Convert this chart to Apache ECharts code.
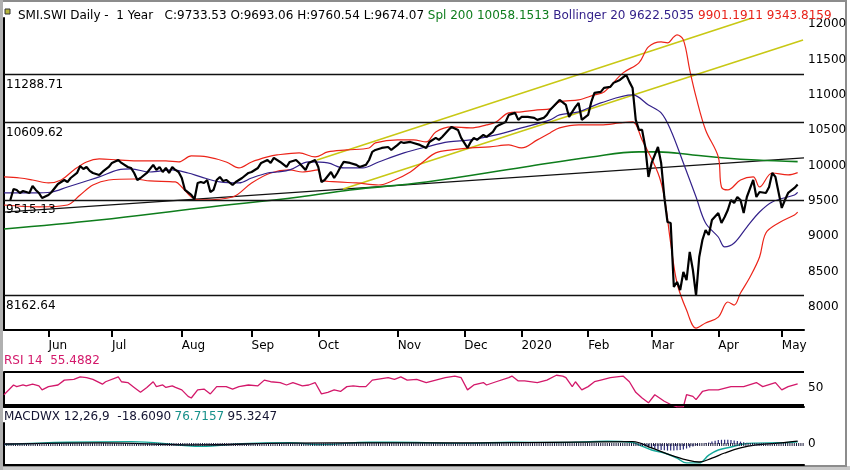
<!DOCTYPE html>
<html>
<head>
<meta charset="utf-8">
<script src="https://cdn.jsdelivr.net/npm/echarts@6.0.0/dist/echarts.min.js"></script>
<style>
  html, body { margin: 0; padding: 0; background: #fff; }
  #chart { width: 850px; height: 470px; }
</style>
</head>
<body>
<div id="chart"></div>
<script>
// x = trading day number since mid May 2019
var monthDays  = [14, 34, 56, 78, 99, 124, 145, 163, 184, 204, 225, 245];
var monthNames = ['Jun', 'Jul', 'Aug', 'Sep', 'Oct', 'Nov', 'Dec', '2020', 'Feb', 'Mar', 'Apr', 'May'];

// daily close
var price = [
  [2,9515],[3,9671],[4,9657],[5,9614],[6,9642],[7,9628],[8,9614],[9,9713],[10,9657],[11,9614],[12,9543],
  [14,9586],[15,9628],[16,9685],[17,9741],[19,9798],[20,9770],[21,9826],[23,9897],[24,9996],[25,9954],
  [26,9982],[27,9926],[28,9897],[30,9869],[31,9911],[33,9982],[34,10039],[36,10081],[37,10039],[39,9982],
  [40,9968],[41,9897],[42,9798],[43,9826],[45,9897],[47,10011],[48,9940],[49,9982],[50,9911],[51,9968],
  [52,9897],[53,9982],[54,9940],[55,9911],[56,9826],[57,9657],[59,9586],[60,9525],[61,9756],[62,9770],
  [63,9756],[64,9798],[65,9628],[66,9657],[67,9798],[68,9841],[69,9784],[70,9798],[72,9727],[73,9770],
  [75,9826],[77,9897],[78,9911],[80,9968],[81,10039],[83,10081],[84,10039],[85,10110],[87,10053],[89,9982],
  [90,10053],[92,10081],[93,10039],[95,9940],[96,10039],[98,10081],[99,9982],[100,9770],[101,9798],[103,9911],
  [104,9826],[105,9897],[106,9982],[107,10053],[109,10039],[111,10011],[112,9982],[114,10011],[115,10081],
  [116,10195],[117,10223],[119,10251],[121,10265],[122,10223],[124,10294],[125,10336],[126,10322],[128,10336],
  [129,10322],[131,10294],[133,10251],[134,10336],[136,10393],[137,10365],[138,10407],[140,10506],[141,10549],
  [143,10506],[144,10393],[146,10251],[147,10336],[148,10393],[149,10365],[151,10435],[152,10407],[154,10478],
  [155,10549],[156,10577],[158,10619],[159,10719],[161,10747],[162,10648],[163,10690],[165,10690],[167,10676],
  [168,10648],[170,10676],[171,10719],[172,10789],[175,10931],[177,10860],[178,10690],[180,10832],[181,10888],
  [182,10648],[184,10719],[185,10903],[186,11030],[188,11044],[189,11101],[191,11115],[192,11172],[194,11214],
  [196,11285],[197,11186],[198,11101],[199,10648],[200,10506],[201,10506],[202,10265],[203,9841],[204,10039],
  [206,10265],[207,10039],[208,9557],[209,9203],[210,9189],[211,8283],[212,8354],[213,8241],[214,8496],
  [215,8382],[216,8779],[217,8524],[218,8163],[219,8708],[220,8949],[221,9090],[222,9019],[223,9232],
  [225,9331],[226,9189],[227,9274],[228,9373],[229,9515],[230,9472],[231,9557],[232,9515],[233,9331],
  [234,9557],[236,9798],[237,9557],[238,9628],[240,9614],[241,9699],[242,9897],[243,9841],[245,9402],
  [246,9515],[247,9614],[249,9685],[250,9733.53]
];

// Bollinger 20
var bbUpper = [
  [0,9841],[5,9826],[9,9798],[14,9756],[18,9798],[22,9940],[26,10053],[30,10096],[36,10081],[43,10067],
  [51,10067],[55,10053],[59,10138],[64,10124],[70,10053],[74,9968],[78,10053],[83,10124],[86,10152],
  [93,10181],[98,10124],[102,10195],[108,10223],[115,10251],[117,10322],[124,10365],[129,10365],[133,10336],
  [136,10478],[141,10549],[147,10535],[152,10577],[155,10619],[159,10747],[163,10761],[168,10789],[172,10803],
  [175,10903],[181,10931],[186,11002],[189,11044],[195,11313],[200,11455],[203,11681],[207,11752],[209,11738],
  [211,11823],[212,11851],[214,11781],[216,11356],[218,10973],[221,10506],[225,10124],[226,9699],[228,9657],
  [232,9798],[236,9841],[238,9699],[242,9897],[247,9869],[250,9901.19]
];
var bbMid = [
  [0,9614],[9,9614],[15,9628],[20,9699],[25,9770],[30,9841],[36,9940],[40,9954],[46,9911],[53,9940],
  [58,9897],[62,9841],[68,9770],[74,9756],[78,9826],[83,9897],[86,9911],[90,9940],[96,10053],[102,10039],
  [107,9968],[113,9968],[118,10053],[126,10181],[133,10265],[140,10336],[147,10365],[155,10435],[163,10535],
  [172,10648],[175,10719],[181,10761],[188,10888],[198,11002],[203,10860],[207,10747],[210,10506],[214,10039],
  [218,9557],[221,9189],[225,8991],[227,8850],[230,8906],[234,9132],[238,9345],[242,9487],[249,9586],[250,9622.5]
];
var bbLower = [
  [0,9444],[11,9416],[20,9444],[24,9586],[28,9727],[33,9798],[41,9812],[46,9784],[54,9770],[56,9699],
  [59,9557],[62,9515],[72,9557],[78,9756],[84,9897],[90,9940],[94,9911],[99,9940],[100,9798],[105,9770],
  [111,9756],[118,9727],[123,9798],[128,9911],[132,10053],[136,10181],[141,10223],[147,10251],[153,10265],
  [159,10294],[163,10251],[168,10365],[172,10464],[175,10535],[181,10577],[188,10577],[194,10605],[198,10619],
  [201,10365],[206,9897],[208,9557],[210,8906],[212,8340],[215,7957],[218,7702],[221,7773],[225,7858],
  [228,8071],[230,8028],[232,8198],[235,8425],[238,8708],[240,9048],[244,9189],[249,9303],[250,9343.8]
];
// Spl 200
var spl200 = [
  [0,9104],[30,9232],[62,9402],[93,9557],[109,9657],[133,9770],[164,9982],[185,10124],[200,10195],
  [206,10195],[217,10152],[227,10110],[237,10081],[250,10058]
];
// drawn trend lines and levels
var channelHigh = [[98.6,10080],[235.6,12089]];
var channelLow  = [[106.8,9670],[251.7,11779]];
var longTrend   = [[0,9344],[252,10110]];
var levels = [11288.71, 10609.62, 9515.13, 8162.64];

// RSI 14
var rsi = [
  [0,42],[3,54],[4,52],[6,54],[7,53],[9,55],[11,53],[12,48],[14,52],[17,54],[19,60],[22,61],[24,64],
  [26,63],[28,61],[31,55],[32,58],[36,64],[37,58],[39,57],[41,51],[43,45],[45,51],[47,58],[48,52],[50,54],
  [51,51],[53,53],[54,51],[56,48],[58,40],[59,38],[61,48],[63,49],[65,43],[67,52],[70,52],[72,49],[74,52],
  [77,54],[80,53],[82,60],[84,58],[87,57],[89,54],[91,57],[94,53],[96,54],[98,57],[100,43],[102,45],
  [104,48],[106,46],[108,52],[110,53],[112,52],[114,52],[116,60],[121,63],[123,61],[125,64],[127,60],
  [130,61],[133,57],[136,60],[139,63],[142,65],[144,63],[146,48],[148,54],[151,57],[152,54],[155,58],
  [159,63],[160,65],[162,59],[164,59],[168,57],[171,60],[174,66],[176,65],[177,63],[179,52],[180,58],
  [182,48],[184,52],[186,58],[188,60],[191,63],[195,65],[197,58],[199,45],[201,38],[203,32],[205,42],
  [208,34],[210,30],[212,27],[214,27],[215,42],[217,40],[218,36],[220,46],[222,48],[225,48],[229,52],
  [233,52],[237,57],[239,52],[243,57],[245,48],[247,52],[250,55.49]
];

// MACD 12,26,9
var macd = [
  [0,-20],[20,60],[40,80],[56,-40],[62,-80],[75,10],[90,40],[100,-20],[115,60],[130,50],[145,20],[160,60],
  [175,50],[190,90],[198,50],[200,-30],[204,-200],[208,-300],[212,-470],[215,-630],[219,-630],[222,-370],
  [225,-200],[229,-100],[233,0],[237,30],[244,40],[247,50],[250,77]
];
var signal = [
  [0,0],[30,40],[60,-30],[90,30],[120,40],[150,40],[180,60],[198,80],[204,-130],[210,-370],[215,-530],
  [219,-600],[223,-470],[227,-300],[232,-130],[237,-30],[243,20],[247,60],[250,95]
];
var hist = [
  [200,-20],[201,-50],[202,-80],[203,-110],[204,-140],[205,-160],[206,-180],[207,-200],[208,-210],[209,-220],
  [210,-220],[211,-220],[212,-210],[213,-200],[214,-180],[215,-150],[216,-120],[217,-80],[218,-40],[219,-10],
  [221,20],[222,50],[223,80],[224,110],[225,130],[226,140],[227,140],[228,140],[229,130],[230,120],
  [231,100],[232,80],[233,60],[234,40],[235,30],[236,20],[237,10]
];

var FONT = 'DejaVu Sans';
var chart = echarts.init(document.getElementById('chart'));

function xAxisFor(grid, showLabels) {
  return {
    type: 'value', gridIndex: grid, min: 0, max: 252,
    splitLine: { show: false },
    axisLine: { show: true, onZero: false, lineStyle: { color: '#000', width: 2 } },
    axisTick: showLabels ? { show: true, customValues: monthDays, length: 7, lineStyle: { color: '#000', width: 2 } } : { show: false },
    axisLabel: showLabels ? {
      show: true, customValues: monthDays, align: 'left', margin: 10,
      color: '#000', fontFamily: FONT, fontSize: 12,
      formatter: function (v) { return monthNames[monthDays.indexOf(v)]; }
    } : { show: false }
  };
}

function yAxisFor(grid, min, max, labels) {
  return {
    type: 'value', gridIndex: grid, position: 'right', min: min, max: max,
    splitLine: { show: false },
    axisLine: { show: true, lineStyle: { color: '#000', width: 2 } },
    axisTick: { show: false },
    axisLabel: {
      customValues: labels, color: '#000', fontFamily: FONT, fontSize: 12, margin: 4,
      formatter: function (v) { return String(v); }
    }
  };
}

function thin(name, data, color, width, smooth) {
  return {
    name: name, type: 'line', data: data, xAxisIndex: 0, yAxisIndex: 0,
    showSymbol: false, smooth: smooth || false, silent: true,
    lineStyle: { color: color, width: width }
  };
}

chart.setOption({
  animation: false,
  backgroundColor: '#fff',
  title: {
    left: 13, top: 5,
    text: '{k|SMI.SWI Daily -  1 Year   C:9733.53 O:9693.06 H:9760.54 L:9674.07} {g|Spl 200 10058.1513} {b|Bollinger 20 9622.5035} {r|9901.1911 9343.8159}',
    textStyle: {
      fontFamily: FONT, fontSize: 12, fontWeight: 'normal',
      rich: {
        k: { color: '#000', fontFamily: FONT, fontSize: 12 },
        g: { color: '#0e7d1c', fontFamily: FONT, fontSize: 12 },
        b: { color: '#33218a', fontFamily: FONT, fontSize: 12 },
        r: { color: '#e8221a', fontFamily: FONT, fontSize: 12 }
      }
    }
  },
  graphic: [
    { type: 'rect', shape: { x: 5, y: 9, width: 5, height: 5 }, style: { fill: '#b5b53c', stroke: '#333', lineWidth: 1 } },
    { type: 'text', left: 4, top: 355, style: { text: 'RSI 14  55.4882', fill: '#d3186a', font: '12px "DejaVu Sans"' } },
    { type: 'text', left: 4, top: 411, style: {
        text: '{a|MACDWX 12,26,9  -18.6090} {t|76.7157} {a|95.3247}',
        rich: { a: { fill: '#141432', font: '12px "DejaVu Sans"' }, t: { fill: '#16908a', font: '12px "DejaVu Sans"' } }
      } },
    { type: 'rect', shape: { x: 0, y: 466, width: 850, height: 4 }, style: { fill: '#c9c9c9' } },
    { type: 'rect', shape: { x: 1, y: 1, width: 845, height: 465 }, style: { fill: 'none', stroke: '#8c8c8c', lineWidth: 2 } },
    { type: 'rect', shape: { x: 0, y: 0, width: 3, height: 470 }, style: { fill: '#b0b0b0' } }
  ],
  grid: [
    { left: 4, right: 46, top: 18, height: 312 },
    { left: 4, right: 46, top: 372, height: 35 },
    { left: 4, right: 46, top: 423, height: 42 }
  ],
  xAxis: [xAxisFor(0, true), xAxisFor(1, false), xAxisFor(2, false)],
  yAxis: [
    yAxisFor(0, 7675, 12090, [8000, 8500, 9000, 9500, 10000, 10500, 11000, 11500, 12000]),
    yAxisFor(1, 26.9, 70, [50]),
    yAxisFor(2, -700, 700, [0])
  ],
  series: [
    thin('Trend', longTrend, '#111', 1.3),
    thin('Channel high', channelHigh, '#c8c814', 1.6),
    thin('Channel low', channelLow, '#c8c814', 1.6),
    thin('Spl 200', spl200, '#0e7d1c', 1.6, 0.4),
    thin('BB upper', bbUpper, '#ec2419', 1.2, 0.35),
    thin('BB lower', bbLower, '#ec2419', 1.2, 0.35),
    thin('BB mid', bbMid, '#33218a', 1.2, 0.35),
    {
      name: 'SMI', type: 'line', data: price, xAxisIndex: 0, yAxisIndex: 0,
      showSymbol: false, silent: true,
      lineStyle: { color: '#000', width: 2.2 },
      markLine: {
        silent: true, symbol: 'none', animation: false,
        lineStyle: { color: '#111', width: 1.4, type: 'solid' },
        label: {
          position: 'insideStartBottom', distance: [2, 4],
          color: '#000', fontFamily: FONT, fontSize: 12,
          formatter: function (p) { return p.value.toFixed(2); }
        },
        data: levels.map(function (v) { return { yAxis: v }; })
      }
    },
    {
      name: 'RSI', type: 'line', data: rsi, xAxisIndex: 1, yAxisIndex: 1,
      showSymbol: false, silent: true,
      lineStyle: { color: '#d3186a', width: 1.3 },
      markLine: {
        silent: true, symbol: 'none', label: { show: false },
        lineStyle: { color: '#000', width: 2, type: 'solid' },
        data: [{ yAxis: 70 }, { yAxis: 30 }]
      }
    },
    {
      name: 'Hist', type: 'bar', data: hist, xAxisIndex: 2, yAxisIndex: 2,
      barWidth: 1.2, silent: true, itemStyle: { color: '#2a2a78' },
      markLine: {
        silent: true, symbol: 'none', label: { show: false },
        lineStyle: { color: '#1a1a3a', width: 3, type: [1, 1.2] },
        data: [{ yAxis: 0 }]
      }
    },
    {
      name: 'MACD', type: 'line', data: macd, xAxisIndex: 2, yAxisIndex: 2,
      showSymbol: false, smooth: 0.4, silent: true,
      lineStyle: { color: '#16a89a', width: 1.4 }
    },
    {
      name: 'Signal', type: 'line', data: signal, xAxisIndex: 2, yAxisIndex: 2,
      showSymbol: false, smooth: 0.4, silent: true,
      lineStyle: { color: '#000', width: 1.3 }
    }
  ]
});
</script>
</body>
</html>
